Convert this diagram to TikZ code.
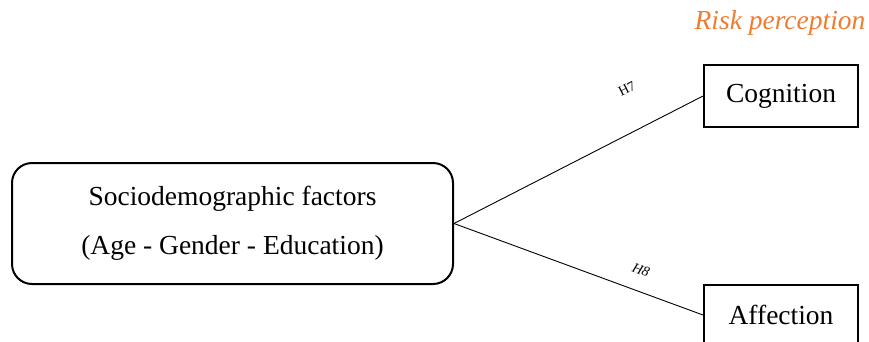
\documentclass[tikz,border=0pt]{standalone}
\usepackage{fontspec}
\setmainfont{Liberation Serif}
\definecolor{riskorange}{RGB}{237,125,49}
\begin{document}
\begin{tikzpicture}[x=1pt,y=-1pt,
  bigtext/.style={font=\fontsize{27.5}{31}\selectfont},
  socbox/.style={draw,line width=2pt,rounded corners=20pt,minimum width=441pt,minimum height=121pt,align=center,bigtext},
  rbox/.style={draw,line width=2pt,minimum width=154pt,inner sep=0pt,bigtext},
  link/.style={line width=0.9pt},
  hlab/.style={font=\fontsize{14}{16}\selectfont}]
\useasboundingbox (0,0) rectangle (869,341);
\node[socbox] (socio) at (232.5,223.5) {Sociodemographic factors\\[18pt](Age - Gender - Education)};
\node[rbox,minimum height=62pt] (cog) at (781,96) {Cognition};
\node[rbox,minimum height=60pt] (aff) at (781,315) {Affection};
\node[font=\fontsize{27.5}{31}\selectfont\itshape,text=riskorange] (risk) at (780,23) {Risk perception};
\draw[link] (socio.east) -- (cog.west);
\draw[link] (socio.east) -- (aff.west);
\node[hlab,rotate=27] (h7) at (627,89) {H7};
\node[hlab,rotate=-21] (h8) at (641,270) {\itshape H8};
\end{tikzpicture}
\end{document}
